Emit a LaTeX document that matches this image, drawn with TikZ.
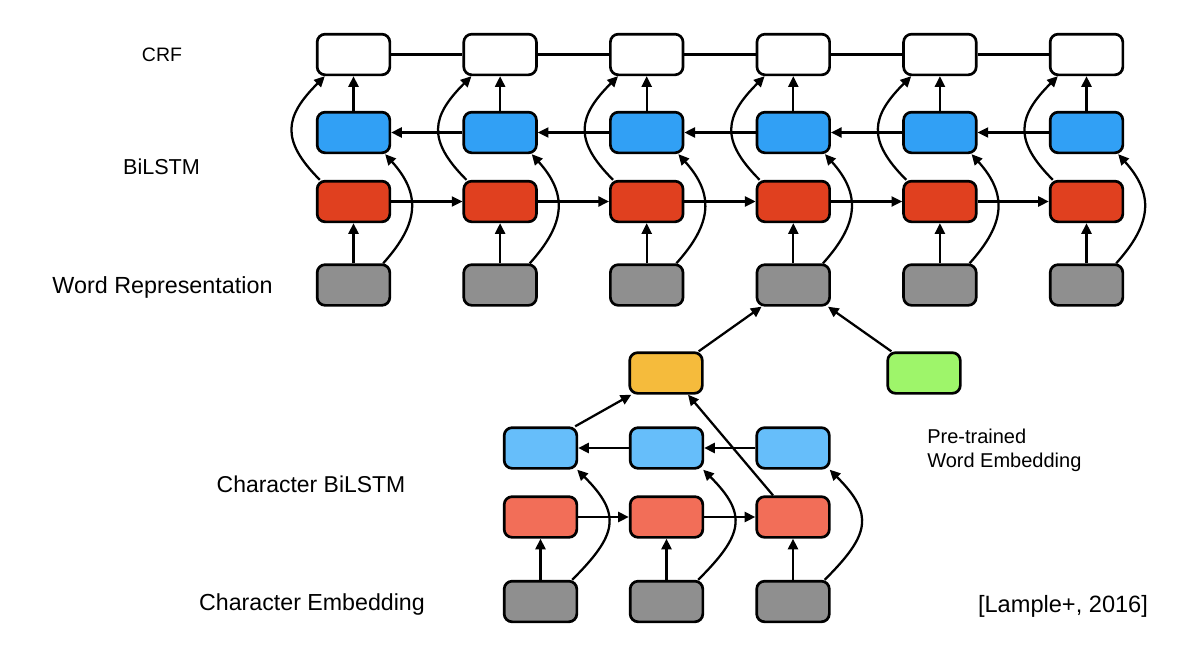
\documentclass[tikz,border=0pt]{standalone}
\usepackage{fontspec}
\setmainfont{Liberation Sans}
\usetikzlibrary{arrows.meta,calc}
\definecolor{crfc}{HTML}{FFFFFF}
\definecolor{blu}{HTML}{31A0F5}
\definecolor{rd}{HTML}{E0401F}
\definecolor{gry}{HTML}{8F8F8F}
\definecolor{cblu}{HTML}{66BEFA}
\definecolor{crd}{HTML}{F26E58}
\definecolor{orng}{HTML}{F5BB3C}
\definecolor{grn}{HTML}{9EF56A}
\begin{document}
\begin{tikzpicture}[x=0.75pt,y=0.75pt,
  box/.style={draw=black,line width=2pt,rounded corners=6pt,minimum width=54.5pt,minimum height=30.5pt,inner sep=0pt},
  arr/.style={line width=1.7pt,-{Triangle[length=8pt,width=7.5pt]}},
  ln/.style={line width=1.7pt},
  lab/.style={inner sep=0pt}]
\useasboundingbox (0,0) rectangle (1200,-646);
\fill[white] (0,0) rectangle (1200,-646);
% top columns
\foreach \i/\x in {1/353.5,2/500.1,3/646.7,4/793.3,5/939.9,6/1086.5}{
  \node[box,fill=crfc] (c\i) at (\x,-54.5) {};
  \node[box,fill=blu] (b\i) at (\x,-132.5) {};
  \node[box,fill=rd] (r\i) at (\x,-201.5) {};
  \node[box,fill=gry] (g\i) at (\x,-285) {};
}
\foreach \i in {1,...,6}{
  \draw[arr] (g\i.north) -- (r\i.south);
  \draw[arr] (b\i.north) -- (c\i.south);
  \draw[arr] ($(r\i.north west)+(4,0)$) .. controls +(-40,40) and +(-40,-40) .. ($(c\i.south west)+(9,0)$);
  \draw[arr] ($(g\i.north east)+(-8,0)$) .. controls +(36,40) and +(36,-40) .. ($(b\i.south east)+(-6,0)$);
}
\foreach \i/\j in {1/2,2/3,3/4,4/5,5/6}{
  \draw[ln] (c\i.east) -- (c\j.west);
  \draw[arr] (b\j.west) -- (b\i.east);
  \draw[arr] (r\i.east) -- (r\j.west);
}
% character level
\foreach \i/\x in {1/540.5,2/666.5,3/793}{
  \node[box,fill=cblu] (cb\i) at (\x,-448) {};
  \node[box,fill=crd] (cr\i) at (\x,-517) {};
  \node[box,fill=gry] (cg\i) at (\x,-601.5) {};
}
\foreach \i in {1,2,3}{
  \draw[arr] (cg\i.north) -- (cr\i.south);
  \draw[arr] ($(cg\i.north east)+(-6,0)$) .. controls +(45,45) and +(45,-45) .. ($(cb\i.south east)+(-1,0)$);
}
\foreach \i/\j in {1/2,2/3}{
  \draw[arr] (cr\i.east) -- (cr\j.west);
  \draw[arr] (cb\j.west) -- (cb\i.east);
}
\node[box,fill=orng] (or) at (666,-373) {};
\node[box,fill=grn] (gr) at (924,-373) {};
\draw[arr] ($(cb1.north east)+(-3,0)$) -- ($(or.south west)+(3,0)$);
\draw[arr] ($(cr3.north)+(-20,0)$) -- ($(or.south)+(22,0)$);
\draw[arr] ($(or.north east)+(-5,0)$) -- ($(g4.south west)+(6,0)$);
\draw[arr] ($(gr.north west)+(5,0)$) -- ($(g4.south east)+(-3,0)$);
% labels
\node[lab,font=\fontsize{14.6pt}{17pt}\selectfont] (tcrf) at (162,-55) {CRF};
\node[lab,font=\fontsize{16.2pt}{19pt}\selectfont] (tbil) at (161.5,-167) {BiLSTM};
\node[lab,font=\fontsize{17.5pt}{20pt}\selectfont] (twr) at (162.5,-287) {Word Representation};
\node[lab,font=\fontsize{17.2pt}{20pt}\selectfont] (tcb) at (311,-484) {Character BiLSTM};
\node[lab,font=\fontsize{17.4pt}{20pt}\selectfont] (tce) at (312,-604) {Character Embedding};
\node[lab,font=\fontsize{15pt}{18pt}\selectfont,align=left,anchor=west] (tpre) at (927,-450) {Pre-trained\\Word Embedding};
\node[lab,font=\fontsize{17.7pt}{20pt}\selectfont] (tlam) at (1063,-606) {[Lample+, 2016]};
\end{tikzpicture}
\end{document}
